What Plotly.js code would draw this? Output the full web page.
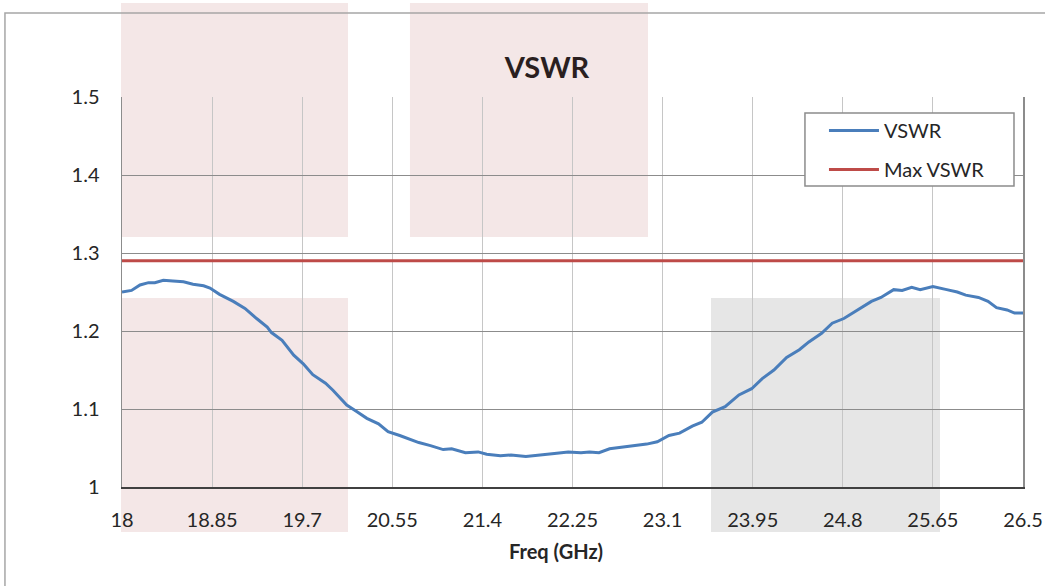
<!DOCTYPE html>
<html>
<head>
<meta charset="utf-8">
<script src="https://cdn.plot.ly/plotly-3.0.1.min.js"></script>
<style>html,body{margin:0;padding:0;background:#fff;}#chart{width:1045px;height:586px;}</style>
</head>
<body>
<div id="chart"></div>
<script>
var freq = [18.00,18.09,18.17,18.25,18.31,18.39,18.48,18.58,18.67,18.77,18.83,18.92,19.05,19.16,19.27,19.37,19.41,19.51,19.62,19.71,19.80,19.92,19.99,20.12,20.21,20.31,20.42,20.51,20.62,20.80,20.91,21.03,21.11,21.24,21.36,21.44,21.57,21.67,21.81,21.92,22.08,22.21,22.33,22.41,22.50,22.60,22.72,22.83,22.95,23.05,23.16,23.26,23.38,23.47,23.57,23.69,23.82,23.94,24.04,24.15,24.27,24.39,24.48,24.60,24.70,24.81,24.93,25.07,25.16,25.28,25.36,25.45,25.53,25.65,25.78,25.88,25.96,26.08,26.17,26.25,26.35,26.42,26.50];
var vswr = [1.250,1.252,1.259,1.262,1.262,1.265,1.264,1.263,1.260,1.258,1.255,1.247,1.238,1.229,1.216,1.205,1.198,1.188,1.169,1.158,1.144,1.133,1.124,1.105,1.097,1.088,1.081,1.071,1.066,1.057,1.053,1.048,1.049,1.044,1.045,1.042,1.040,1.041,1.039,1.041,1.043,1.045,1.044,1.045,1.044,1.049,1.051,1.053,1.055,1.058,1.066,1.069,1.078,1.083,1.096,1.103,1.118,1.126,1.139,1.150,1.166,1.176,1.186,1.197,1.210,1.216,1.226,1.238,1.243,1.253,1.252,1.256,1.253,1.257,1.253,1.250,1.246,1.243,1.238,1.230,1.227,1.223,1.223];
var maxFreq = [18, 26.5];
var maxVswr = [1.29, 1.29];
var xTickVals = [18,18.85,19.7,20.55,21.4,22.25,23.1,23.95,24.8,25.65,26.5];
var xTickText = ["18","18.85","19.7","20.55","21.4","22.25","23.1","23.95","24.8","25.65","26.5"];
var yTickVals = [1,1.1,1.2,1.3,1.4,1.5];
var yTickText = ["1","1.1","1.2","1.3","1.4","1.5"];

var FONT = "Lato, 'Open Sans', sans-serif";

var traces = [
  {x: freq, y: vswr, type: 'scatter', mode: 'lines', name: 'VSWR', legendgroup: 'a',
   line: {color: '#4a7ebb', width: 3}},
  {x: maxFreq, y: maxVswr, type: 'scatter', mode: 'lines', name: 'Max VSWR', legendgroup: 'b',
   line: {color: '#be4b48', width: 3}}
];

function rect(x0, x1, y0, y1, color) {
  return {type: 'rect', xref: 'paper', yref: 'paper', x0: x0, x1: x1, y0: y0, y1: y1,
          fillcolor: color, line: {width: 0}, layer: 'below'};
}

var layout = {
  width: 1045, height: 586,
  margin: {l: 122, r: 22, t: 97, b: 99},
  paper_bgcolor: '#ffffff',
  plot_bgcolor: 'rgba(0,0,0,0)',
  font: {family: FONT, color: '#262626', size: 20},
  title: {text: '<b>VSWR</b>', font: {family: FONT, size: 29, color: '#2a1f1f'},
          xref: 'paper', x: 0.4717, xanchor: 'center', yref: 'container', y: 0.884, yanchor: 'middle'},
  showlegend: true,
  legend: {x: 0.7791, y: 0.9641, xanchor: 'left', yanchor: 'top',
           bgcolor: 'rgba(0,0,0,0)', borderwidth: 0,
           font: {family: FONT, size: 20, color: '#262626'},
           traceorder: 'grouped', tracegroupgap: 10, itemwidth: 50},
  xaxis: {range: [18, 26.5], tickmode: 'array', tickvals: xTickVals, ticktext: xTickText,
          showgrid: true, gridcolor: '#c6c6c6', gridwidth: 1,
          showline: true, linecolor: '#404040', linewidth: 1.5,
          ticks: '', ticklabelstandoff: 14, zeroline: false,
          tickfont: {family: FONT, size: 20, color: '#262626'}},
  yaxis: {range: [1, 1.5], tickmode: 'array', tickvals: yTickVals, ticktext: yTickText,
          showgrid: true, gridcolor: '#8c8c8c', gridwidth: 1,
          showline: true, linecolor: '#8c8c8c', linewidth: 1.5, mirror: true,
          ticks: '', ticklabelstandoff: 17, zeroline: false,
          tickfont: {family: FONT, size: 20, color: '#262626'}},
  shapes: [
    rect(-0.0011, 0.2508, 0.641, 1.241, '#f4e7e7'),
    rect(0.3196, 0.5838, 0.641, 1.241, '#f4e7e7'),
    rect(-0.0011, 0.2508, -0.1154, 0.4846, '#f4e7e7'),
    rect(0.6537, 0.9079, -0.1154, 0.4846, '#e6e6e6'),
    {type: 'rect', xref: 'paper', yref: 'paper', x0: -0.1299, x1: 1.5, y0: -0.6, y1: 1.2154,
     fillcolor: 'rgba(0,0,0,0)', line: {color: '#a6a6a6', width: 1.5}, layer: 'below'},
    // legend frame
    {type: 'rect', xref: 'paper', yref: 'paper', x0: 0.7580, x1: 0.9900, y0: 0.7718, y1: 0.959,
     fillcolor: '#ffffff', line: {color: '#8c8c8c', width: 1.5}, layer: 'above'}
  ],
  annotations: [
    {text: '<b>Freq (GHz)</b>', xref: 'paper', yref: 'paper', x: 0.4817, y: -0.164,
     xanchor: 'center', yanchor: 'middle', showarrow: false,
     font: {family: FONT, size: 20, color: '#262626'}}
  ]
};

Plotly.newPlot('chart', traces, layout, {staticPlot: true, displayModeBar: false});
</script>
</body>
</html>
